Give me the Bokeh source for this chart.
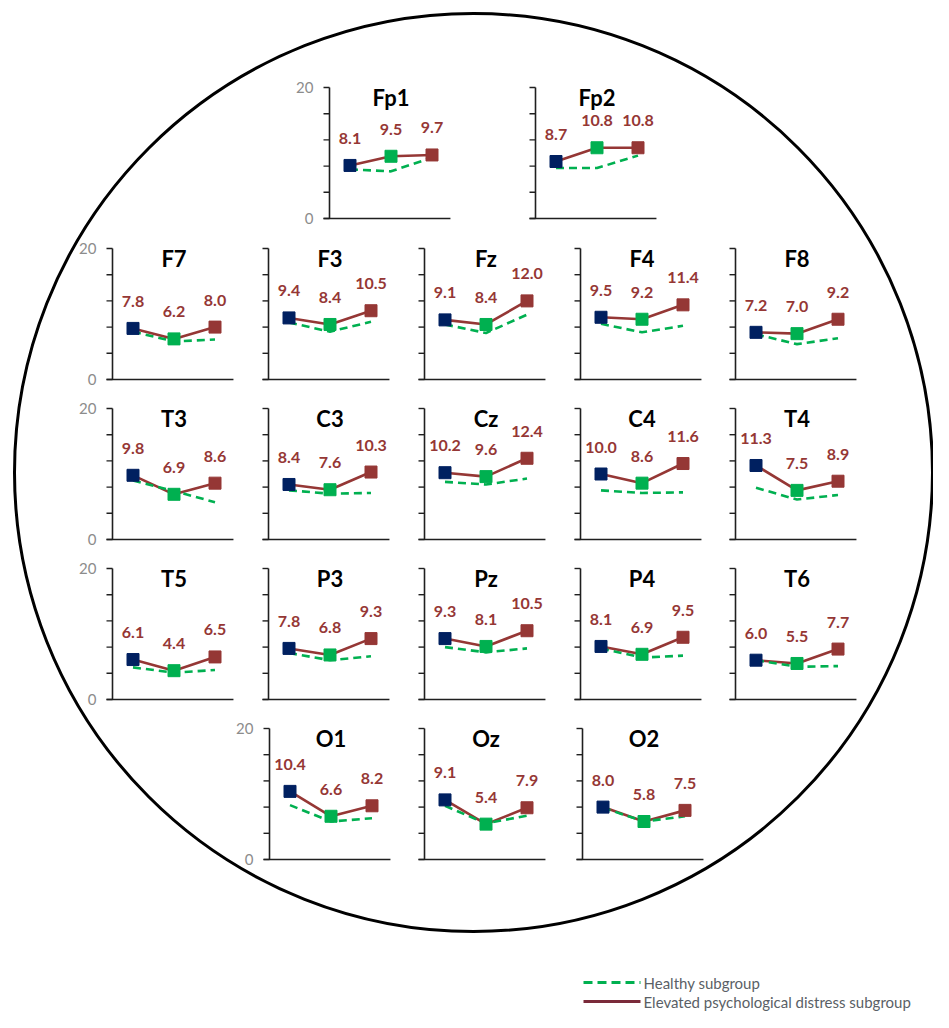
from bokeh.plotting import figure
from bokeh.models import Range1d
from bokeh.embed import file_html
from bokeh.resources import INLINE
from bokeh.core.properties import value

# ---------------- data ----------------
electrodes = ["Fp1", "Fp2",
              "F7", "F3", "Fz", "F4", "F8",
              "T3", "C3", "Cz", "C4", "T4",
              "T5", "P3", "Pz", "P4", "T6",
              "O1", "Oz", "O2"]
conditions = [1, 2, 3]

distress_1 = [8.1, 8.7, 7.8, 9.4, 9.1, 9.5, 7.2, 9.8, 8.4, 10.2, 10.0, 11.3, 6.1, 7.8, 9.3, 8.1, 6.0, 10.4, 9.1, 8.0]
distress_2 = [9.5, 10.8, 6.2, 8.4, 8.4, 9.2, 7.0, 6.9, 7.6, 9.6, 8.6, 7.5, 4.4, 6.8, 8.1, 6.9, 5.5, 6.6, 5.4, 5.8]
distress_3 = [9.7, 10.8, 8.0, 10.5, 12.0, 11.4, 9.2, 8.6, 10.3, 12.4, 11.6, 8.9, 6.5, 9.3, 10.5, 9.5, 7.7, 8.2, 7.9, 7.5]

healthy_1 = [7.5, 7.7, 7.3, 8.7, 8.4, 8.5, 6.9, 9.0, 7.5, 8.8, 7.5, 7.9, 4.9, 7.1, 8.0, 7.8, 6.0, 8.3, 8.2, 7.9]
healthy_2 = [7.2, 7.7, 5.8, 7.3, 7.1, 7.2, 5.4, 7.4, 7.0, 8.4, 7.1, 6.1, 4.1, 6.0, 7.2, 6.4, 5.0, 5.8, 5.5, 5.8]
healthy_3 = [9.3, 9.6, 6.1, 8.8, 9.9, 8.2, 6.3, 5.7, 7.1, 9.3, 7.2, 6.8, 4.5, 6.6, 7.8, 6.7, 5.1, 6.3, 6.7, 6.6]

y_ticks = [0, 4, 8, 12, 16, 20]
y_tick_labels = ["0", "20"]
y_tick_label_values = [0, 20]

legend_labels = ["Healthy subgroup", "Elevated psychological distress subgroup"]

# ---------------- layout (pixels: y-axis line x, top of axis y) ----------------
col_x = [112, 268, 424, 580, 735]
row_top = [87, 248, 408, 568, 728]
panel_pos = {
    "Fp1": (329, row_top[0]), "Fp2": (535, row_top[0]),
    "F7": (col_x[0], row_top[1]), "F3": (col_x[1], row_top[1]), "Fz": (col_x[2], row_top[1]),
    "F4": (col_x[3], row_top[1]), "F8": (col_x[4], row_top[1]),
    "T3": (col_x[0], row_top[2]), "C3": (col_x[1], row_top[2]), "Cz": (col_x[2], row_top[2]),
    "C4": (col_x[3], row_top[2]), "T4": (col_x[4], row_top[2]),
    "T5": (col_x[0], row_top[3]), "P3": (col_x[1], row_top[3]), "Pz": (col_x[2], row_top[3]),
    "P4": (col_x[3], row_top[3]), "T6": (col_x[4], row_top[3]),
    "O1": (269, row_top[4]), "Oz": (col_x[2], row_top[4]), "O2": (582, row_top[4]),
}
left_panels = {"Fp1", "F7", "T3", "T5", "O1"}

W, H = 933, 1012
PX_X = 41.0          # pixels per x unit
PX_Y = 131.0 / 20.0  # pixels per y unit

NAVY = "#002060"
GREEN = "#00B050"
BROWN = "#953735"
AXIS = "#1f1f1f"
FONT = value("Lato")

p = figure(width=W, height=H, x_range=Range1d(0, W), y_range=Range1d(0, H),
           output_backend="svg", toolbar_location=None, min_border=0,
           x_axis_type=None, y_axis_type=None, outline_line_color=None)
p.grid.visible = False

# head outline
cx, cy, r = 473, H - 472, 459
p.ellipse(x=[cx], y=[cy], width=[2 * r], height=[2 * r], fill_color=None,
          line_color="black", line_width=3)

for i, name in enumerate(electrodes):
    ax, top = panel_pos[name]
    bottom = top + 131
    xs = 0.5 - ax / PX_X
    ys = 0 - (H - bottom) / PX_Y
    xn, yn = "x_" + name, "y_" + name
    p.extra_x_ranges[xn] = Range1d(xs, xs + W / PX_X)
    p.extra_y_ranges[yn] = Range1d(ys, ys + H / PX_Y)
    kw = dict(x_range_name=xn, y_range_name=yn)

    tick = 6.0 / PX_X
    # axes
    p.segment(x0=[0.5, 0.5 - tick], y0=[0, 0], x1=[0.5, 3.45], y1=[20, 0],
              line_color=AXIS, line_width=1.6, **kw)
    p.segment(x0=[0.5 - tick] * len(y_ticks), y0=y_ticks, x1=[0.5] * len(y_ticks), y1=y_ticks,
              line_color=AXIS, line_width=1.4, **kw)
    if name in left_panels:
        p.text(x=[0.5] * 2, y=y_tick_label_values, text=y_tick_labels, x_offset=-16,
               text_align="right", text_baseline="middle", text_font=FONT,
               text_font_size="15px", text_color="#8c8c8c", **kw)

    dvals = [distress_1[i], distress_2[i], distress_3[i]]
    hvals = [healthy_1[i], healthy_2[i], healthy_3[i]]

    p.line(conditions, dvals, line_color=BROWN, line_width=2.6, **kw)
    p.line(conditions, hvals, line_color=GREEN, line_width=2.6, line_dash="8 5", **kw)
    p.scatter(conditions, dvals, marker="square", size=12,
              fill_color=[NAVY, GREEN, BROWN], line_color=[NAVY, GREEN, BROWN], **kw)
    p.text(x=conditions, y=dvals, text=[f"{v:.1f}" for v in dvals], y_offset=-27,
           text_align="center", text_baseline="middle", text_font=FONT,
           text_font_style="bold", text_font_size="16px", text_color=BROWN, **kw)
    p.text(x=[2], y=[20], text=[name], y_offset=10, text_align="center",
           text_baseline="middle", text_font=FONT, text_font_style="bold",
           text_font_size="22px", text_color="black", **kw)

# legend (drawn in pixel coordinates)
leg_y = [H - 982, H - 1001]
p.line([583, 640], [leg_y[0], leg_y[0]], line_color=GREEN, line_width=3, line_dash="9 5")
p.line([583, 640], [leg_y[1], leg_y[1]], line_color="#7a2a3a", line_width=3)
p.text(x=[643] * 2, y=leg_y, text=legend_labels, text_align="left",
       text_baseline="middle", text_font=FONT, text_font_size="15px",
       text_color="#5a5f66")

open("out.html", "w").write(file_html(p, INLINE))
